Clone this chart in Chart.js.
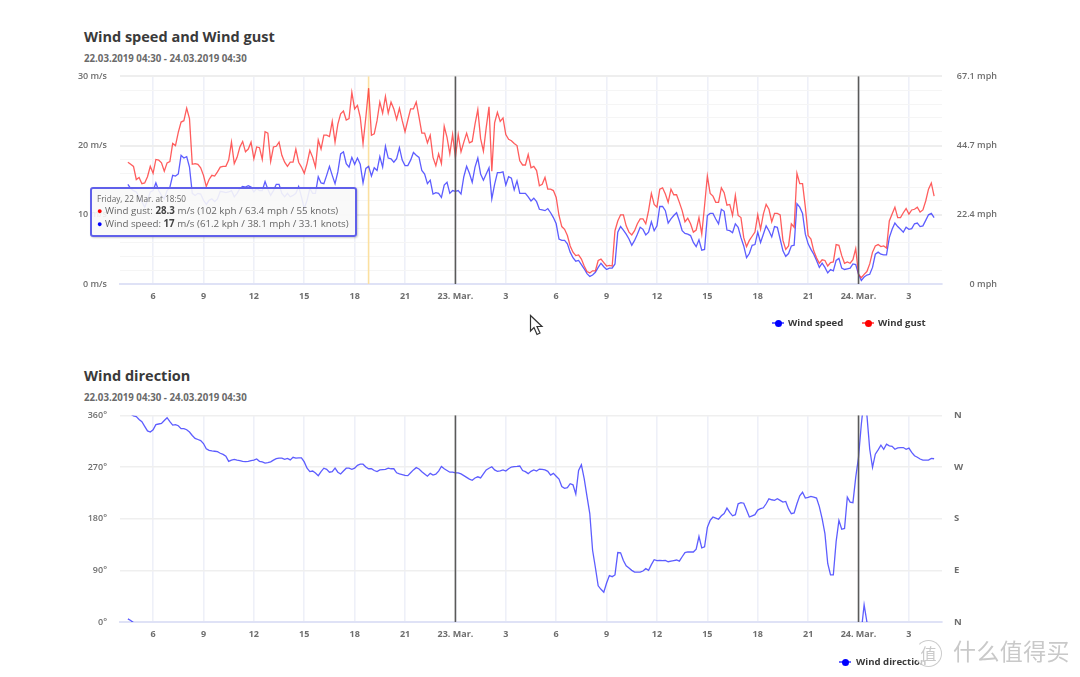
<!DOCTYPE html>
<html>
<head>
<meta charset="utf-8">
<title>Wind</title>
<script src="https://cdn.jsdelivr.net/npm/chart.js@4"></script>
<style>
html,body{margin:0;padding:0;background:#fff;}
body{width:1080px;height:677px;position:relative;overflow:hidden;font-family:"Open Sans",sans-serif;}
canvas{position:absolute;left:0;}
.title{position:absolute;left:84px;font-size:14.5px;font-weight:700;color:#3a3a3a;line-height:18px;white-space:nowrap;}
.sub{position:absolute;left:84px;font-size:9.7px;font-weight:700;color:#6a6a6a;line-height:14px;white-space:nowrap;}
.legend{position:absolute;font-size:9.6px;font-weight:700;color:#3a3a3a;line-height:14px;white-space:nowrap;}
.mark{position:absolute;width:12px;height:2px;}
.mark i{position:absolute;left:2.5px;top:-2.5px;width:7px;height:7px;border-radius:50%;}
#tip{position:absolute;left:90px;top:187px;width:263px;height:46px;background:rgba(248,248,248,.9);border:2px solid #6060ea;border-radius:3px;box-shadow:1px 1px 2px rgba(0,0,0,.2);color:#666;z-index:3;}
#tip div{position:absolute;left:5px;white-space:nowrap;font-size:9.75px;line-height:13px;}
#tip b{color:#444;}
#tip .dot{font-size:9px;}
#wm{position:absolute;left:953px;top:636px;font-family:"Noto Sans CJK SC";font-size:23px;line-height:28px;color:#c9c9c9;letter-spacing:0.4px;white-space:nowrap;}
#wm0{position:absolute;left:915px;top:640px;width:25px;height:25px;border:1.5px solid #ccc;border-radius:50%;border-left-color:transparent;font-family:"Noto Sans CJK SC";font-size:16px;line-height:24px;text-align:center;color:#c9c9c9;background:rgba(255,255,255,.7);}
#cursor{position:absolute;left:529px;top:314px;}
</style>
</head>
<body>
<div class="title" style="top:28px">Wind speed and Wind gust</div>
<div class="sub" style="top:52px">22.03.2019 04:30 - 24.03.2019 04:30</div>
<canvas id="windChart"></canvas>
<div id="tip">
  <div style="top:3px;font-size:8.2px">Friday, 22 Mar. at 18:50</div>
  <div style="top:15px"><span class="dot" style="color:#f00">●</span> Wind gust: <b>28.3</b> m/s (102 kph / 63.4 mph / 55 knots)</div>
  <div style="top:28px"><span class="dot" style="color:#00f">●</span> Wind speed: <b>17</b> m/s (61.2 kph / 38.1 mph / 33.1 knots)</div>
</div>
<div class="mark" style="left:772px;top:322px;background:#66f"><i style="background:#00f"></i></div>
<div class="legend" style="left:788px;top:316px">Wind speed</div>
<div class="mark" style="left:862px;top:322px;background:#f66"><i style="background:#f00"></i></div>
<div class="legend" style="left:878px;top:316px">Wind gust</div>
<svg id="cursor" width="16" height="23" viewBox="0 0 16 23"><path d="M1.5 1.5 L1.5 17 L5 13.5 L8 20.5 L11 19 L8 12.5 L13 12.5 Z" fill="#fff" stroke="#333" stroke-width="1.2"/></svg>

<div class="title" style="top:367px">Wind direction</div>
<div class="sub" style="top:391px">22.03.2019 04:30 - 24.03.2019 04:30</div>
<canvas id="dirChart"></canvas>
<div class="mark" style="left:839px;top:661px;background:#66f"><i style="background:#00f"></i></div>
<div class="legend" style="left:856px;top:655px">Wind direction</div>
<div id="wm0">值</div>
<div id="wm">什么值得买</div>

<script>
// one reading every 10 minutes, first one at 04:30 on 22 Mar
const startHour = 4.5;
const stepHours = 1 / 6;

const windGust = [
  17.6,17.3,17.0,15.1,15.4,14.5,14.6,15.5,17.0,16.0,
  18.0,17.9,17.5,16.3,17.5,17.7,20.3,20.0,21.9,23.4,
  23.6,25.4,23.9,17.3,17.4,17.3,16.8,15.7,14.1,15.1,
  15.7,15.6,16.2,16.9,17.0,17.0,17.9,20.5,17.4,18.3,
  19.8,20.6,19.1,19.5,20.5,18.1,19.8,19.7,18.0,22.0,
  21.8,17.7,19.8,19.9,20.5,18.6,17.6,17.0,17.6,17.6,
  19.5,17.6,16.9,16.0,17.4,19.3,18.3,16.9,20.8,19.5,
  21.5,21.5,21.3,23.5,20.5,23.1,24.6,25.0,23.7,23.9,
  27.7,25.3,25.8,24.1,20.3,24.1,28.3,21.5,21.7,23.6,
  26.3,24.7,27.1,24.7,26.3,25.3,23.8,25.4,23.6,22.0,
  23.7,25.3,25.3,26.3,24.1,21.8,21.8,20.4,21.5,18.3,
  17.1,18.8,17.4,22.8,21.2,18.8,21.6,18.3,21.6,19.1,
  20.5,21.8,20.4,20.6,23.1,25.2,21.0,19.2,22.6,25.6,
  16.3,23.3,24.8,23.5,24.0,21.6,20.9,20.7,20.3,20.0,
  17.8,17.2,17.2,18.7,16.8,17.0,16.4,14.2,14.4,15.4,
  13.7,13.7,13.5,12.5,9.9,8.3,7.9,7.0,5.5,4.6,
  4.1,4.2,3.6,2.6,1.8,1.6,1.9,1.9,3.4,3.6,
  3.1,2.6,2.7,2.6,7.7,9.1,10.0,10.0,8.4,7.5,
  7.1,7.7,8.7,9.4,9.4,8.7,10.6,13.1,11.5,11.1,
  13.7,13.9,13.0,11.8,13.7,12.9,12.9,11.8,10.6,9.0,
  9.5,8.7,7.5,7.8,9.6,7.2,11.3,15.6,13.1,12.7,
  11.8,11.8,13.9,13.2,11.4,11.5,9.9,12.8,9.9,9.6,
  6.7,5.4,6.3,6.9,7.5,10.0,7.9,10.1,11.5,10.8,
  9.0,10.2,10.2,10.0,6.3,5.0,5.5,8.7,8.2,16.0,
  14.5,14.5,11.1,7.0,6.5,4.8,3.8,3.0,3.5,3.4,
  2.6,3.1,3.2,5.7,5.6,4.1,3.0,3.2,3.0,3.5,
  5.1,1.4,0.9,1.4,1.8,2.9,4.6,5.5,5.7,5.4,
  5.5,5.2,9.1,10.1,11.1,9.6,9.6,10.3,10.9,10.1,
  10.7,10.8,11.1,10.4,10.7,12.0,13.7,14.6,12.7
];

const windSpeed = [
  14.4,13.8,13.5,13.3,12.6,11.9,11.1,12.1,13.3,13.5,
  14.6,13.5,12.8,12.3,13.5,14.0,15.7,15.6,15.9,18.6,
  18.2,18.4,16.9,13.1,12.8,13.1,13.0,12.1,11.5,12.1,
  12.3,11.9,12.3,13.4,13.3,13.2,13.3,13.5,12.6,13.1,
  13.8,14.1,14.0,14.2,14.0,13.3,13.8,13.5,13.5,14.8,
  13.7,12.8,13.5,14.4,14.4,13.1,12.6,13.1,12.6,12.8,
  13.1,14.1,12.6,10.9,12.1,13.8,13.1,13.1,15.5,14.6,
  14.5,15.7,17.0,15.7,14.5,16.2,18.8,19.1,17.4,16.9,
  18.3,17.3,18.2,17.3,14.6,16.7,17.0,15.6,16.8,16.4,
  18.4,16.9,19.9,18.2,18.1,17.6,18.1,19.7,17.9,17.1,
  17.1,17.9,19.0,18.6,18.3,16.4,15.9,14.5,15.0,13.0,
  13.2,13.1,12.5,14.3,14.7,13.1,13.5,13.4,13.5,13.0,
  15.5,17.0,16.0,14.7,16.9,18.2,15.9,15.0,15.9,16.8,
  12.3,14.4,16.1,16.1,16.2,14.3,15.5,15.3,13.6,14.9,
  13.1,13.1,13.1,12.6,12.0,12.4,11.9,10.8,10.7,10.6,
  10.9,10.3,9.6,8.7,6.5,6.3,6.3,5.8,4.6,3.8,
  3.3,3.4,2.8,2.2,1.5,1.1,1.3,1.7,2.4,3.0,
  2.5,2.1,2.3,2.3,2.9,7.5,8.3,7.8,7.2,6.5,
  5.6,6.3,7.2,8.2,7.9,7.1,7.5,9.0,7.7,8.4,
  11.2,11.2,10.6,8.8,9.4,9.9,10.3,9.1,7.7,7.3,
  7.2,7.0,6.0,5.4,6.4,4.9,5.0,9.9,10.2,10.2,
  9.4,8.7,10.8,10.5,7.8,7.7,7.4,8.7,8.2,6.7,
  5.5,3.8,4.4,5.6,5.7,7.5,6.0,7.2,8.4,7.7,
  6.8,8.3,8.2,6.5,4.8,4.0,4.4,5.5,5.6,11.6,
  11.1,10.2,7.2,5.8,5.0,4.3,3.4,2.4,3.0,2.4,
  1.6,2.1,1.9,3.4,3.7,2.3,2.1,2.2,2.3,2.9,
  2.8,1.4,0.5,1.0,1.3,1.4,2.4,4.3,4.6,4.3,
  4.2,4.2,6.7,7.9,8.8,8.3,7.9,7.5,8.2,7.9,
  8.0,8.7,8.8,8.3,8.4,9.2,10.0,10.2,9.6
];

// unwrapped bearing, may run over 360 near north
const windDirection = [
  365.5,362.5,359,358,353,349,341,333,331,335,
  344,345,346,351,356,349,343,344,342,337,
  337,335,331,325,320,318,316,311,302,299,
  298,297.5,296.7,294,292,289,280,282,283.4,282,
  281,280,279.4,280,281,282,284,280,279,277,
  277.6,279,282,284.5,285.7,285.7,283.4,285,282.5,287,
  285.5,286,286,279,268,262,263,259.5,255,262,
  268,266,261,262,268,261,258,263,268,268,
  266,268,273,275,275,270,267,267,264,262,
  265,265.5,266,268,267,267,260,258,257,255.5,
  255,260,265,269,266.7,262,258,254,259,256,
  257.5,263,271,267,264,261,261,260,260,258,
  255,252,249,247,251,253,251,258,265,268,
  270.6,265,262.6,263.5,264.9,263,267,270,270.6,271,
  271.8,264,262,258.5,262.6,265,263,266.5,266,265,
  262.6,256,259,254,249,236,233,234,241,239,
  223,264,274,250,219,189,125,95,63,57,
  52,68,81,79,82,121,120.6,107,98,94,
  90,87,87,87,88.9,93,90,100,108.5,107,
  107.3,107,107.3,105,106,107,108,106,113.7,121,
  122,122,122,127,149,129,131,165,177,183,
  181,179,185,189,198.5,191,185,187,206,208,
  207,195,183,185,187,195,197.5,199,206,214.7,
  213,212,214.7,212,209,210,197,188.7,190,206,
  220,226,216,217,219,217.5,216,201,180,154,
  102,82,82,140,177,161.6,163,217.5,209,208,
  252,287,344.6,390,360,301,269.5,292.5,300,308,
  301,310,307,306,301,303.5,304,304,301,303,
  295.5,289.7,287,284,282,282,282,285,284.5
];

const timeTicks = [6,9,12,15,18,21,24,27,30,33,36,39,42,45,48,51];
const timeLabels = ['6','9','12','15','18','21','23. Mar.','3','6','9','12','15','18','21','24. Mar.','3'];
const dayLines = [24, 48];
const hoverHour = 18.83;
const mphTicks = [0, 22.4, 44.7, 67.1];
const compassLabels = ['N','E','S','W','N'];

const xMin = 4.03, xMax = 52.97;
const tickFont = {family:'"Open Sans"', size:9, weight:'600'};

function toPoints(vals){
  return vals.map((v,i)=>({x:startHour+i*stepHours, y:v}));
}

function lineSet(label, vals, color){
  return {label:label, data:toPoints(vals), borderColor:color, borderWidth:1.3, pointRadius:0, tension:0, fill:false};
}

// vertical markers for midnight and the hovered reading
const plotLines = {
  id:'plotLines',
  beforeDatasetsDraw(chart, args, opts){
    if(opts.hover==null) return;
    const a = chart.chartArea, x = chart.scales.x.getPixelForValue(opts.hover), c = chart.ctx;
    c.save(); c.strokeStyle='#fbe0a0'; c.lineWidth=1.6;
    c.beginPath(); c.moveTo(x,a.top); c.lineTo(x,a.bottom); c.stroke(); c.restore();
  },
  afterDatasetsDraw(chart, args, opts){
    const a = chart.chartArea, c = chart.ctx;
    c.save(); c.strokeStyle='#5a5a5a'; c.lineWidth=1.6;
    dayLines.forEach(h=>{
      const x = chart.scales.x.getPixelForValue(h);
      c.beginPath(); c.moveTo(x,a.top); c.lineTo(x,a.bottom); c.stroke();
    });
    c.restore();
  }
};

function xScale(){
  return {
    type:'linear', min:xMin, max:xMax,
    afterBuildTicks(s){ s.ticks = timeTicks.map(v=>({value:v})); },
    afterFit(s){ s.height = 36; },
    grid:{color:'#eef0f8', lineWidth:1.6, drawTicks:false},
    border:{color:'#dfe2f6', width:2},
    ticks:{autoSkip:false, maxRotation:0, padding:7, color:'#6e6e6e', font:{family:'"Open Sans"', size:9, weight:'700'},
      callback(v,i){ return timeLabels[i]; }}
  };
}

function makeChart(id, top, height, pad, datasets, yLeft, yRight, hover){
  const cv = document.getElementById(id);
  cv.width = 1080; cv.height = height;
  cv.style.top = top+'px';
  return new Chart(cv.getContext('2d'), {
    type:'line',
    data:{datasets:datasets},
    options:{
      responsive:false, animation:false, events:[],
      layout:{padding:{left:0,right:83,top:pad,bottom:0}},
      plugins:{legend:{display:false}, tooltip:{enabled:false}, plotLines:{hover:hover}},
      scales:{x:xScale(), y:yLeft, yRight:yRight}
    },
    plugins:[plotLines]
  });
}

makeChart('windChart', 58, 262, 10.7,
  [lineSet('Wind gust', windGust, 'rgba(255,30,30,.72)'), lineSet('Wind speed', windSpeed, 'rgba(30,30,255,.72)')],
  {
    position:'left', min:0, max:30, afterFit(s){ s.width = 120; },
    grid:{color:c=>c.tick.value%10===0?'#eeeeee':'#f5f5f5', lineWidth:c=>c.tick.value%10===0?2:1, drawTicks:false},
    border:{display:false},
    ticks:{stepSize:2, autoSkip:false, padding:13, color:'#6e6e6e', font:tickFont,
      callback(v){ return v%10===0 ? v+' m/s' : ''; }}
  },
  {
    position:'right', min:0, max:67.1, afterFit(s){ s.width = 55; },
    afterBuildTicks(s){ s.ticks = mphTicks.map(v=>({value:v})); },
    grid:{display:false, drawTicks:false}, border:{display:false},
    ticks:{autoSkip:false, padding:13, crossAlign:'far', color:'#6e6e6e', font:tickFont,
      callback(v){ return v+' mph'; }}
  },
  hoverHour);

makeChart('dirChart', 397, 261, 10.3,
  [lineSet('Wind direction', windDirection, 'rgba(30,30,255,.72)'),
   lineSet('Wind direction', windDirection.map(v=>v-360), 'rgba(30,30,255,.72)')],
  {
    position:'left', min:0, max:360, afterFit(s){ s.width = 120; },
    grid:{color:'#efefef', lineWidth:1.4, drawTicks:false},
    border:{display:false},
    ticks:{stepSize:90, padding:13, color:'#6e6e6e', font:tickFont, callback(v){ return v+'°'; }}
  },
  {
    position:'right', min:0, max:360, afterFit(s){ s.width = 55; },
    grid:{display:false, drawTicks:false}, border:{display:false},
    ticks:{stepSize:90, padding:12, color:'#6e6e6e', font:{family:'"Open Sans"', size:9.5, weight:'700'},
      callback(v){ return compassLabels[v/90]; }}
  },
  null);
</script>
</body>
</html>
